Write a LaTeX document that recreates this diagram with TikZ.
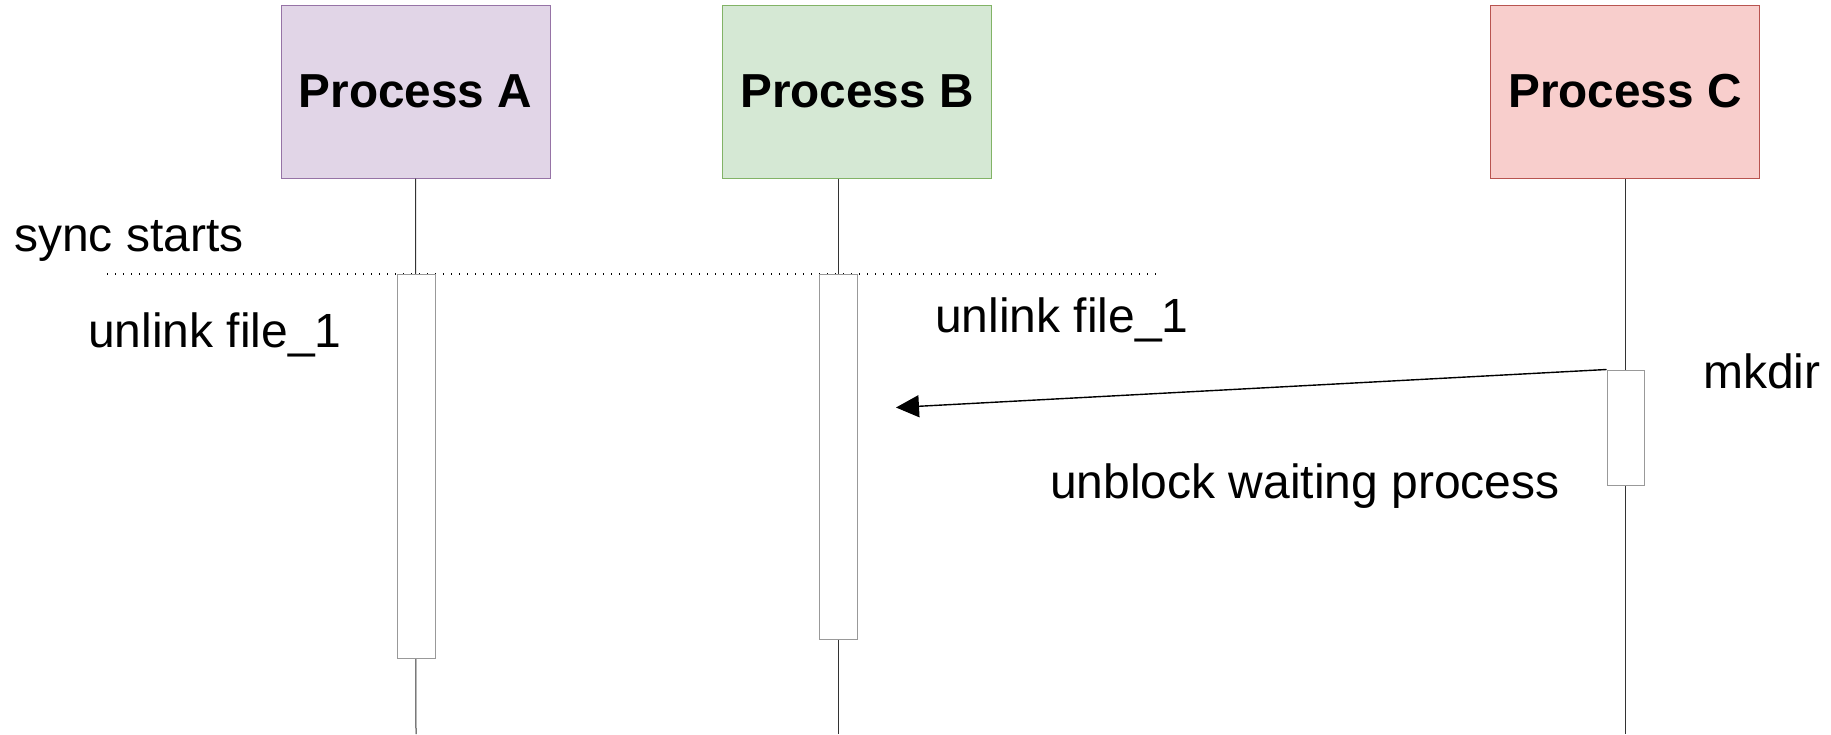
\documentclass[tikz,border=0pt]{standalone}
\usepackage{fontspec}
\setmainfont{Liberation Sans}
\usetikzlibrary{arrows.meta}
\definecolor{purpfill}{HTML}{E1D5E7}
\definecolor{purpline}{HTML}{9673A6}
\definecolor{greenfill}{HTML}{D5E8D4}
\definecolor{greenline}{HTML}{82B366}
\definecolor{redfill}{HTML}{F8CECC}
\definecolor{redline}{HTML}{B85450}
\definecolor{actline}{HTML}{999999}
\definecolor{lifeline}{HTML}{333333}
\tikzset{
  procbox/.style={rectangle, inner sep=0pt, line width=1pt, minimum width=269pt, minimum height=173pt, font=\fontsize{47.7}{56}\selectfont\bfseries},
  actbox/.style={rectangle, inner sep=0pt, draw=actline, fill=white, line width=1pt, minimum width=38pt},
  life/.style={draw=lifeline, line width=1pt},
  lbl/.style={inner sep=0pt, anchor=base west, font=\fontsize{48}{56}\selectfont},
  msg/.style={draw=black, line width=1.4pt, -{Triangle[length=23pt,width=22pt]}},
  syncline/.style={draw=black, line width=1.2pt, dash pattern=on 1.2pt off 6.8pt}
}
\begin{document}
\begin{tikzpicture}[x=1pt,y=-1pt]
\useasboundingbox[fill=white] (0,0) rectangle (1831,734);
% process headers
\node[procbox, fill=purpfill, draw=purpline] (pA) at (415.5,91.5) {\raisebox{-2pt}{Process A}};
\node[procbox, fill=greenfill, draw=greenline] (pB) at (857,91.5) {\raisebox{-2pt}{Process B}};
\node[procbox, fill=redfill, draw=redline] (pC) at (1625,91.5) {\raisebox{-2pt}{Process C}};
% bottom ends of lifelines
\coordinate (endA) at (416,734);
\coordinate (endB) at (838,734);
\coordinate (endC) at (1625,734);
% lifelines
\draw[life] (pA.south) -- (endA);
\draw[life] (pB.south -| endB) -- (endB);
\draw[life] (pC.south) -- (endC);
% sync line
\coordinate (syncL) at (107,274);
\coordinate (syncR) at (1162,274);
\draw[syncline] (syncL) -- (syncR);
% activation boxes
\node[actbox, minimum height=384pt] (actA) at (416,466) {};
\node[actbox, minimum height=365pt] (actB) at (838,456.5) {};
\node[actbox, minimum height=115pt, minimum width=37pt] (actC) at (1625.5,427.5) {};
% labels
\node[lbl] (tSync) at (14,251) {sync starts};
\node[lbl] (tUA) at (88,347) {unlink file\_1};
\node[lbl] (tUB) at (935,332) {unlink file\_1};
\node[lbl] (tMk) at (1703,388) {mkdir};
\node[lbl] (tUnb) at (1050,498) {unblock waiting process};
% message
\coordinate (tip) at (896,407.5);
\draw[msg] (actC.north west) -- (tip);
\end{tikzpicture}
\end{document}
